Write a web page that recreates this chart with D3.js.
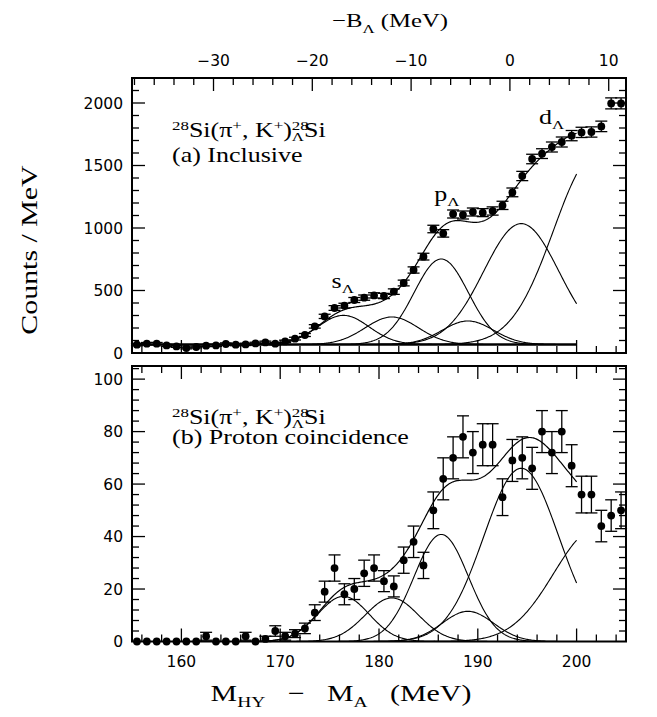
<!DOCTYPE html>
<html><head><meta charset="utf-8">
<script src="https://cdn.jsdelivr.net/npm/d3@7"></script>
<style>body{margin:0;background:#fff}</style>
</head><body>
<svg id="c" width="657" height="717" xmlns="http://www.w3.org/2000/svg"></svg>
<script>
// ---------------- data ----------------
const massBins = [155.5,156.5,157.5,158.5,159.5,160.5,161.5,162.5,163.5,164.5,
  165.5,166.5,167.5,168.5,169.5,170.5,171.5,172.5,173.5,174.5,
  175.5,176.5,177.5,178.5,179.5,180.5,181.5,182.5,183.5,184.5,
  185.5,186.5,187.5,188.5,189.5,190.5,191.5,192.5,193.5,194.5,
  195.5,196.5,197.5,198.5,199.5,200.5,201.5,202.5,203.5,204.5];
const inclusiveCounts = [67,75,75,61,53,40,48,59,61,72,
  67,69,77,85,75,93,115,144,213,293,
  360,379,424,443,461,456,491,560,664,771,
  992,957,1112,1104,1128,1123,1136,1181,1285,1416,
  1552,1595,1648,1688,1739,1765,1768,1813,1997,1997];
const inclusiveErr = [9,9,9,8,8,7,7,8,8,9,
  9,9,9,10,9,10,11,12,14,17,
  19,19,20,21,21,21,22,23,25,27,
  30,30,32,32,32,32,33,33,35,37,
  38,39,40,40,41,41,41,42,44,44];
const coincCounts = [0,0,0,0,0,0,0,2,0,0,
  0,2,0,1,4,2,3,5,11,19,
  28,18,20,26,28,23,21,31,38,29,
  50,62,70,78,72,75,75,55,69,70,
  66,80,72,80,67,56,56,44,48,50];
const coincErr = [0,0,0,0,0,0,0,1.5,0,0,
  0,1.5,0,1,2,1.5,1.5,2,3,4,
  5,4,4,5,5,4,4,5,6,5,
  7,8,8,8,8,8,8,7,8,8,
  8,8,8,8,8,7,7,6,6,7];

const xTicksMajor = [160,170,180,190,200];
const bTicksMajor = [-30,-20,-10,0,10];
const yTicksTop = [0,500,1000,1500,2000];
const yTicksBottom = [0,20,40,60,80,100];

// fitted peak components (centre, width, amplitude)
const compCenters = [176.4,181.3,186.3,189.0,194.4,202.0];
const compSigmas  = [2.6,2.7,2.75,2.6,3.8,4.3];
const compAmpTop  = [233,220,684,188,967,1519];
const compAmpBottom = [17.2,16.6,40.8,11.5,66,43];
const backgroundTop = 68;
const bindingOffset = 193.25;   // -B_Lambda = M - offset
const fitRange = [160, 200];
const shellLabels = [{n:"s", m:175.2, v:520},{n:"p", m:185.6, v:1215},{n:"d", m:196.2, v:1830}];

// ---------------- layout ----------------
const svg = d3.select("#c");
const L = 132, R = 626;
const xDom = [155, 205];
const topP = {t:78, b:353}, botP = {t:366, b:641.5};
const x = d3.scaleLinear().domain(xDom).range([L, R]);
const xB = d3.scaleLinear().domain([xDom[0]-bindingOffset, xDom[1]-bindingOffset]).range([L, R]);
const yT = d3.scaleLinear().domain([0, 2200]).range([topP.b, topP.t]);
const yB = d3.scaleLinear().domain([0, 105]).range([botP.b, botP.t]);

const serif = "'Liberation Serif','Times New Roman',serif";
const sans = "'DejaVu Sans',sans-serif";
const SX = 1.3;

function richText(parent, px, py, segs, o) {
  const size = o.size, sx = o.sx || 1;
  const g = parent.append("g").attr("transform",
    `translate(${px},${py}) rotate(${o.rotate||0}) scale(${sx},1)`);
  const t = g.append("text").attr("font-family", o.family || serif)
    .attr("font-size", size).attr("text-anchor", o.anchor || "start").attr("fill", "#000")
    .attr("xml:space", "preserve").style("white-space", "pre");
  let cur = 0, prev = null;
  segs.forEach(s => {
    const shift = s.shift || 0;
    const ts = t.append("tspan").attr("font-size", s.size || size).text(s.t);
    const dy = -(shift - cur);
    if (dy) ts.attr("dy", dy);
    cur = shift;
    if (s.back && prev) ts.attr("dx", -prev.node().getComputedTextLength());
    else if (s.dx) ts.attr("dx", s.dx);
    prev = ts;
  });
  return t;
}

// ---------------- axes (frames with inward ticks) ----------------
function frame(p, yScale, yMajor, yMinorStep, yMax, useBinding, labelsBottom) {
  const g = svg.append("g");
  g.append("rect").attr("x", L).attr("y", p.t).attr("width", R-L).attr("height", p.b-p.t)
    .attr("fill", "none").attr("stroke", "#000").attr("stroke-width", 2);
  const maj = 13, mnr = 7;
  d3.range(0, yMax+0.001, yMinorStep).forEach(v => {
    const isMaj = yMajor.includes(v);
    const len = isMaj ? maj : mnr, yy = yScale(v);
    if (yy < p.t + 0.5 || yy > p.b - 0.5) return;
    g.append("line").attr("x1", L).attr("x2", L+len).attr("y1", yy).attr("y2", yy).attr("stroke","#000").attr("stroke-width",1.3);
    g.append("line").attr("x1", R).attr("x2", R-len).attr("y1", yy).attr("y2", yy).attr("stroke","#000").attr("stroke-width",1.3);
  });
  yMajor.forEach(v => {
    g.append("text").attr("x", 123).attr("y", yScale(v)).attr("dy", "0.36em")
      .attr("text-anchor", "end").attr("font-family", sans).attr("font-size", 15.5).text(v);
  });
  const xm = d3.range(156, 205, 2);
  xm.forEach(v => {
    const len = xTicksMajor.includes(v) ? maj : mnr;
    g.append("line").attr("x1", x(v)).attr("x2", x(v)).attr("y1", p.b).attr("y2", p.b-len).attr("stroke","#000").attr("stroke-width",1.3);
  });
  if (labelsBottom) xTicksMajor.forEach(v => {
    g.append("text").attr("x", x(v)).attr("y", 667).attr("text-anchor","middle")
      .attr("font-family", sans).attr("font-size", 15.5).text(v);
  });
  if (useBinding) {
    d3.range(-38, 12, 2).forEach(v => {
      const len = bTicksMajor.includes(v) ? maj : mnr;
      g.append("line").attr("x1", xB(v)).attr("x2", xB(v)).attr("y1", p.t).attr("y2", p.t+len).attr("stroke","#000").attr("stroke-width",1.3);
    });
    bTicksMajor.forEach(v => {
      g.append("text").attr("x", xB(v)).attr("y", 66).attr("text-anchor","middle")
        .attr("font-family", sans).attr("font-size", 15.5).text(v < 0 ? "\u2212" + Math.abs(v) : v);
    });
  } else {
    xm.forEach(v => {
      const len = xTicksMajor.includes(v) ? maj : mnr;
      g.append("line").attr("x1", x(v)).attr("x2", x(v)).attr("y1", p.t).attr("y2", p.t+len).attr("stroke","#000").attr("stroke-width",1.3);
    });
  }
}
frame(topP, yT, yTicksTop, 100, 2200, true, false);
frame(botP, yB, yTicksBottom, 4, 105, false, true);

// ---------------- curves ----------------
const gauss = (m, i, amps) => amps[i] * Math.exp(-((m - compCenters[i]) ** 2) / (2 * compSigmas[i] ** 2));
const ms = d3.range(fitRange[0], fitRange[1] + 1e-6, 0.1);
function drawCurves(amps, yScale, base) {
  const line = d3.line().x(d => x(d[0])).y(d => yScale(d[1]));
  compCenters.forEach((c, i) => {
    svg.append("path").attr("d", line(ms.map(m => [m, base + gauss(m, i, amps)])))
      .attr("fill","none").attr("stroke","#000").attr("stroke-width",1.1);
  });
  svg.append("path").attr("d", line(ms.map(m => [m, base + d3.sum(compCenters, (c, i) => gauss(m, i, amps))])))
    .attr("fill","none").attr("stroke","#000").attr("stroke-width",1.2);
}
svg.append("line").attr("x1", x(xDom[0])).attr("x2", x(fitRange[1])).attr("y1", yT(backgroundTop)).attr("y2", yT(backgroundTop))
  .attr("stroke","#000").attr("stroke-width",2.6);
drawCurves(compAmpTop, yT, backgroundTop);
drawCurves(compAmpBottom, yB, 0);

// ---------------- data points ----------------
function drawPoints(vals, errs, yScale) {
  const g = svg.append("g");
  massBins.forEach((m, i) => {
    const cx = x(m), v = vals[i], e = errs[i];
    if (e > 0) {
      g.append("line").attr("x1", cx).attr("x2", cx).attr("y1", yScale(v-e)).attr("y2", yScale(v+e)).attr("stroke","#000").attr("stroke-width",1.3);
      [v-e, v+e].forEach(w => g.append("line").attr("x1", cx-6).attr("x2", cx+6).attr("y1", yScale(w)).attr("y2", yScale(w)).attr("stroke","#000").attr("stroke-width",1.3));
    }
    g.append("circle").attr("cx", cx).attr("cy", yScale(v)).attr("r", 3.9).attr("fill","#000");
  });
}
drawPoints(inclusiveCounts, inclusiveErr, yT);
drawPoints(coincCounts, coincErr, yB);

// ---------------- texts ----------------
function reaction(px, py) {
  return richText(svg, px, py, [
    {t:"28", size:13, shift:7}, {t:"Si(\u03c0", shift:0}, {t:"+", size:13, shift:7},
    {t:", K", shift:0}, {t:"+", size:13, shift:7}, {t:")", shift:0},
    {t:"28", size:13, shift:7}, {t:"\u039b", size:13, shift:-4, back:true}, {t:"Si", shift:0}
  ], {size:20, sx:SX});
}
reaction(172, 137);
richText(svg, 172, 162, [{t:"(a) Inclusive"}], {size:20, sx:SX});
reaction(172, 424);
richText(svg, 172, 444, [{t:"(b) Proton coincidence"}], {size:20, sx:SX});

shellLabels.forEach(s => {
  richText(svg, x(s.m), yT(s.v), [{t:s.n}, {t:"\u039b", size:13, shift:-5}], {size:20, sx:SX});
});

richText(svg, 390, 27, [{t:"\u2212B"}, {t:"\u039b", size:13, shift:-6}, {t:" (MeV)", shift:0}],
  {size:19, sx:SX, anchor:"middle"});
richText(svg, 341, 701, [{t:"M"}, {t:"HY", size:15, shift:-6}, {t:"   \u2212   M", shift:0}, {t:"A", size:15, shift:-6}, {t:"   (MeV)", shift:0}],
  {size:23, sx:SX, anchor:"middle"});
richText(svg, 37, 250, [{t:"Counts / MeV"}], {size:23, rotate:-90, anchor:"middle", sx:1.3});
</script>
</body></html>
